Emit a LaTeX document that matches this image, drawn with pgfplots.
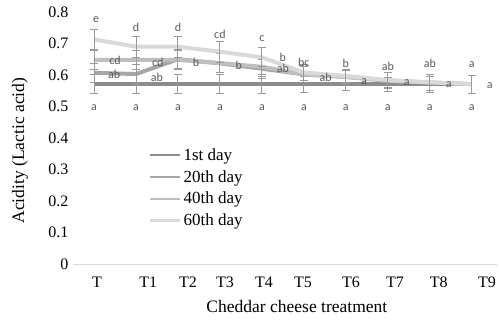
\documentclass[border=0pt]{standalone}
\usepackage{pgfplots}
\pgfplotsset{compat=1.18}
\usepackage{pgfplotstable}
\usepackage{fontspec}
\setmainfont{Liberation Serif}
\newfontfamily\letterfont{Carlito}
\definecolor{c1}{HTML}{8C8C8C}
\definecolor{c2}{HTML}{A6A6A6}
\definecolor{c3}{HTML}{BFBFBF}
\definecolor{c4}{HTML}{D9D9D9}
\definecolor{ebar}{HTML}{9A9A9A}
\definecolor{lettc}{HTML}{595959}

\pgfplotstableread{
x y e
0 0.571 0.030
1 0.571 0.030
2 0.571 0.030
3 0.571 0.030
4 0.571 0.030
5 0.571 0.025
6 0.571 0.020
7 0.571 0.022
8 0.571 0.025
9 0.571 0.029
}\dayone
\pgfplotstableread{
x y e
0 0.607 0.030
1 0.603 0.030
2 0.650 0.030
3 0.637 0.030
4 0.620 0.030
5 0.602 0.025
6 0.594 0.022
7 0.582 0.025
8 0.576 0.025
9 0.571 0.029
}\daytwenty
\pgfplotstableread{
x y e
0 0.648 0.030
1 0.648 0.030
2 0.648 0.030
3 0.638 0.030
4 0.626 0.030
5 0.602 0.025
6 0.594 0.022
7 0.582 0.025
8 0.576 0.025
9 0.571 0.029
}\dayforty
\pgfplotstableread{
x y e
0 0.713 0.033
1 0.690 0.033
2 0.690 0.033
3 0.674 0.033
4 0.656 0.030
5 0.608 0.025
6 0.597 0.022
7 0.584 0.025
8 0.577 0.025
9 0.571 0.029
}\daysixty
\pgfplotstableread{
x y label
0.05 0.775 e
1 0.750 d
2 0.750 d
3 0.730 cd
4 0.717 c
5 0.640 bc
6 0.636 b
7 0.626 ab
8 0.636 ab
9 0.633 a
0.5 0.645 cd
1.52 0.641 cd
2.43 0.641 b
3.45 0.632 b
4.5 0.655 b
4.5 0.620 ab
5.52 0.594 ab
6.43 0.580 a
7.45 0.575 a
8.45 0.571 a
9.43 0.565 a
0.48 0.603 ab
1.5 0.594 ab
0 0.498 a
1 0.498 a
2 0.498 a
3 0.498 a
4 0.498 a
5 0.498 a
6 0.498 a
7 0.498 a
8 0.498 a
9 0.498 a
}\letters

\begin{document}
\begin{tikzpicture}
\begin{axis}[
  at={(0,0)}, anchor=south west,
  scale only axis, width=424pt, height=252pt,
  xmin=-0.5, xmax=9.6, ymin=0, ymax=0.8,
  axis line style={draw=none},
  axis x line*=bottom,
  axis y line*=left,
  xtick={0.07,1.29,2.24,3.12,4.05,4.98,6.12,7.17,8.21,9.36},
  xticklabels={T,T1,T2,T3,T4,T5,T6,T7,T8,T9},
  ytick={0,0.1,0.2,0.3,0.4,0.5,0.6,0.7,0.8},
  yticklabels={0,0.1,0.2,0.3,0.4,0.5,0.6,0.7,0.8},
  /pgf/number format/assume math mode=true,
  major tick length=0pt,
  tick style={draw=none},
  ticklabel style={font=\fontsize{16}{18}\selectfont, text=black},
  xticklabel style={yshift=-9pt},
  yticklabel style={xshift=-1pt},
  xlabel={Cheddar cheese treatment},
  ylabel={Acidity (Lactic acid)},
  label style={font=\fontsize{17.5}{20}\selectfont},
  xlabel style={at={(axis description cs:0.528,-0.17)}, anchor=center},
  ylabel style={at={(axis description cs:-0.125,0.45)}, anchor=center, rotate=0},
  legend style={at={(axis description cs:0.175,0.475)}, anchor=north west,
    draw=none, fill=none, font=\fontsize{17}{20}\selectfont,
    row sep=4.5pt, inner sep=2pt},
  legend cell align=left,
  legend image code/.code={\draw[#1, line width=2.2pt] (0pt,0pt) -- (30pt,0pt);},
  every axis plot/.append style={line width=4pt},
  error bars/y dir=both, error bars/y explicit,
  error bars/error bar style={color=ebar, line width=0.9pt},
  error bars/error mark options={rotate=90, mark size=4pt, color=ebar, line width=0.9pt},
  clip=false,
]
\draw[c4, line width=0.8pt] (axis cs:-0.5,0) -- (axis cs:9.6,0);
\addplot[c1, mark=none] table[x=x, y=y, y error=e] {\dayone};
\addlegendentry{1st day}
\addplot[c2, mark=none] table[x=x, y=y, y error=e] {\daytwenty};
\addlegendentry{20th day}
\addplot[c3, mark=none] table[x=x, y=y, y error=e] {\dayforty};
\addlegendentry{40th day}
\addplot[c4, mark=none] table[x=x, y=y, y error=e] {\daysixty};
\addlegendentry{60th day}
\addplot[draw=none, mark=none, error bars/y dir=none,
  nodes near coords, point meta=explicit symbolic,
  every node near coord/.style={anchor=center, text=lettc, font=\letterfont\fontsize{12}{12}\selectfont, inner sep=0pt}]
  table[x=x, y=y, meta=label] {\letters};
\end{axis}
\pgfresetboundingbox
\path (-73pt,-56pt) rectangle (426pt,264pt);
\end{tikzpicture}
\end{document}
